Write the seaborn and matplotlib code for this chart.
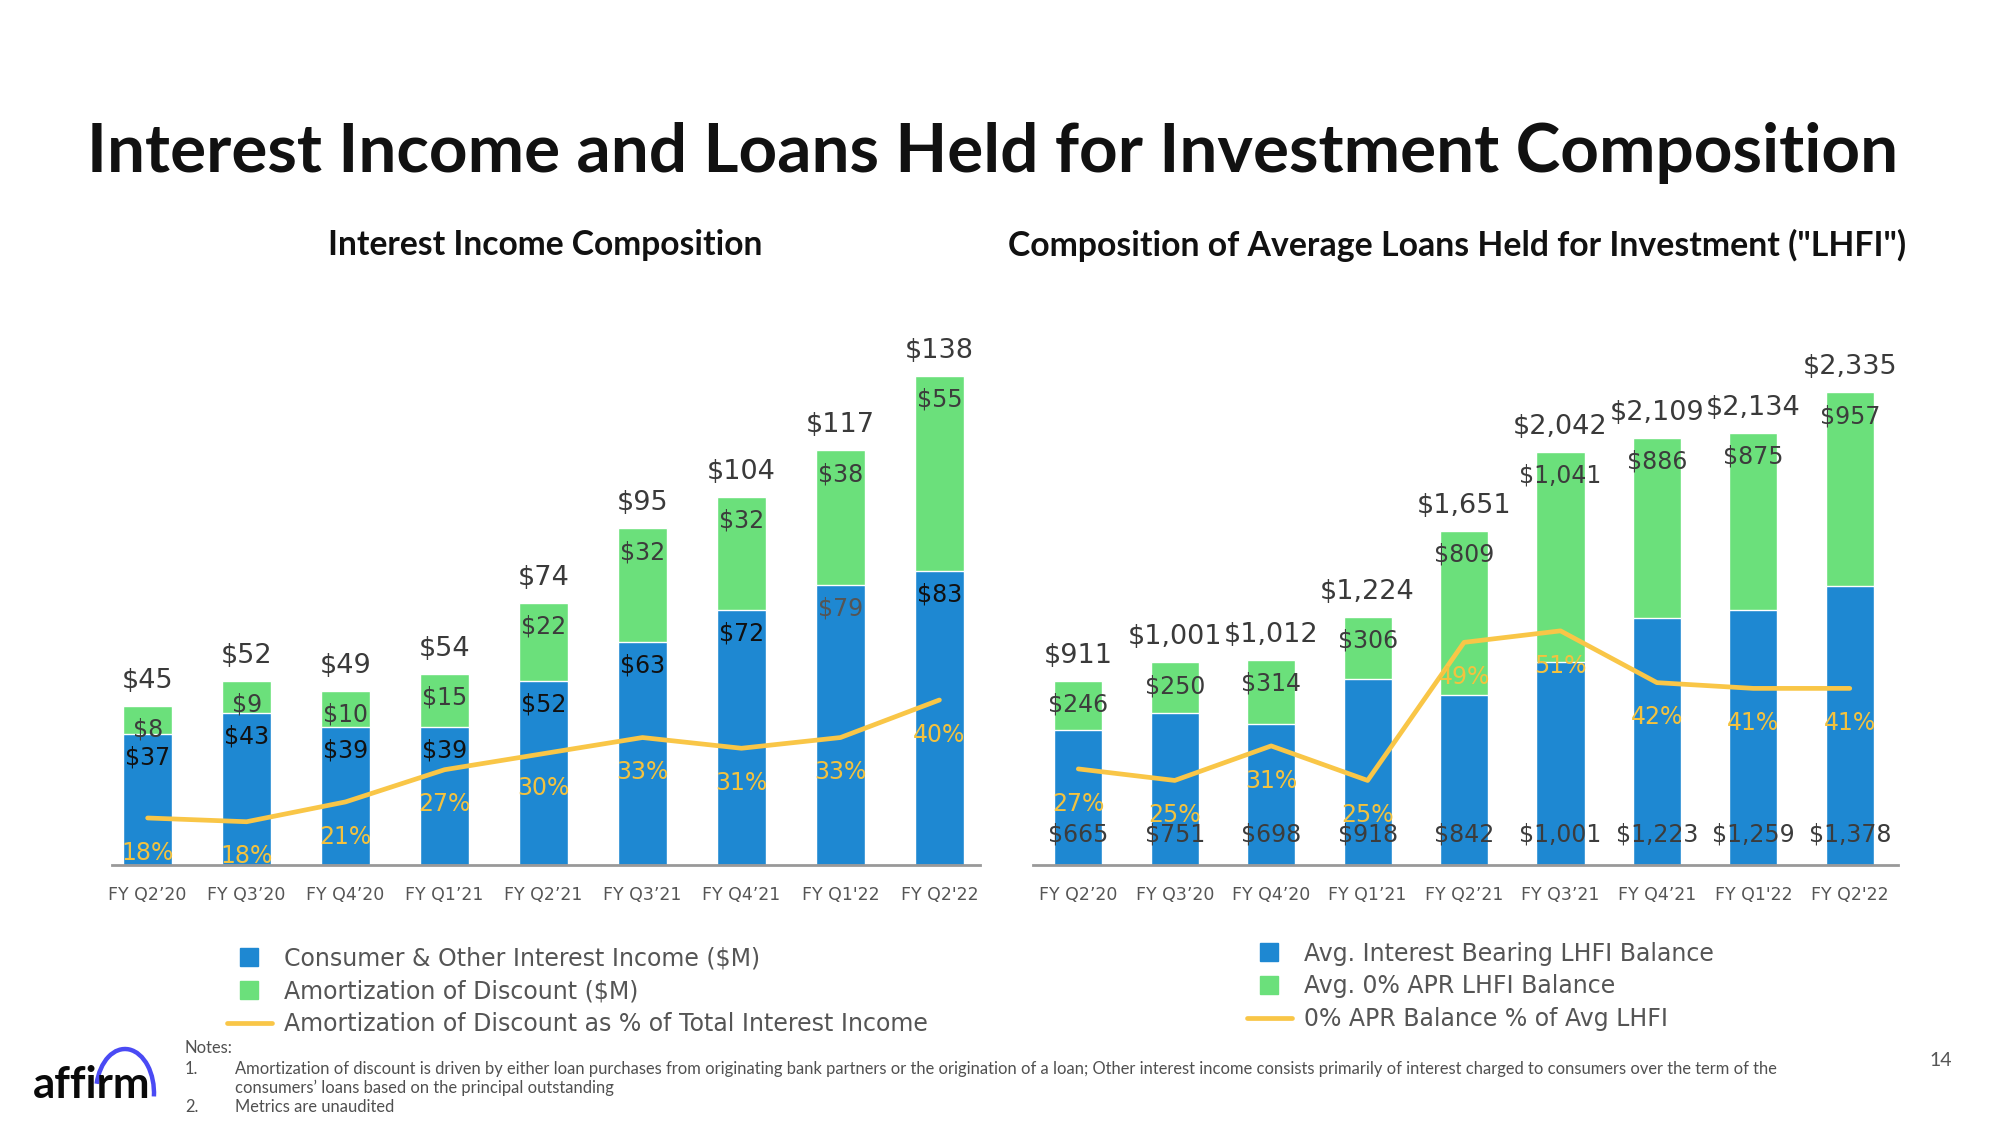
import numpy as np
import pandas as pd
import matplotlib
matplotlib.use("Agg")
import matplotlib.pyplot as plt
import seaborn as sns
from matplotlib.lines import Line2D
from matplotlib.patches import Arc

# ---------------- data ----------------
quarters_left = ["FY Q2’20", "FY Q3’20", "FY Q4’20", "FY Q1’21", "FY Q2’21",
                 "FY Q3’21", "FY Q4’21", "FY Q1'22", "FY Q2'22"]
quarters_right = ["FY Q2’20", "FY Q3’20", "FY Q4’20", "FY Q1’21", "FY Q2’21",
                  "FY Q3’21", "FY Q4’21", "FY Q1'22", "FY Q2'22"]

consumer_income = [37, 43, 39, 39, 52, 63, 72, 79, 83]
amortization = [8, 9, 10, 15, 22, 32, 32, 38, 55]
income_total = [45, 52, 49, 54, 74, 95, 104, 117, 138]
amort_pct = [18, 17.3, 21, 27, 30, 33, 31, 33, 40]
amort_pct_labels = ["18%", "18%", "21%", "27%", "30%", "33%", "31%", "33%", "40%"]

interest_bearing = [665, 751, 698, 918, 842, 1001, 1223, 1259, 1378]
zero_apr = [246, 250, 314, 306, 809, 1041, 886, 875, 957]
lhfi_total = [911, 1001, 1012, 1224, 1651, 2042, 2109, 2134, 2335]
zero_apr_pct = [27, 25, 31, 25, 49, 51, 42, 41, 41]

BLUE = "#1E88D2"
GREEN = "#6BE07B"
YELLOW = "#F9C647"
PCT_TXT = "#F3C23F"

sns.set_theme(style="white")
plt.rcParams["font.family"] = ["DejaVu Sans"]

fig = plt.figure(figsize=(20, 11.25), dpi=100)
fig.patch.set_facecolor("white")

axL = fig.add_axes([0.056, 0.2311, 0.434, 0.4756])
axR = fig.add_axes([0.5165, 0.2311, 0.4325, 0.4756])


def draw_panel(ax, cats, bottom_vals, top_vals, totals, pct, pct_labels,
               ylim, pct_lim, xlim, bar_w, mode, fmt):
    dfT = pd.DataFrame({"q": cats, "v": totals})
    dfB = pd.DataFrame({"q": cats, "v": bottom_vals})
    sns.barplot(data=dfT, x="q", y="v", color=GREEN, saturation=1, width=bar_w,
                ax=ax, errorbar=None)
    sns.barplot(data=dfB, x="q", y="v", color=BLUE, saturation=1, width=bar_w,
                ax=ax, errorbar=None)
    ax.set_xlim(*xlim)
    ax.set_ylim(*ylim)
    ax.set_xlabel("")
    ax.set_ylabel("")
    ax.set_yticks([])
    ax.tick_params(axis="x", length=0, pad=15, labelsize=12.5, labelcolor="#555555")
    for s in ["top", "right", "left"]:
        ax.spines[s].set_visible(False)
    ax.spines["bottom"].set_color("#999999")
    ax.spines["bottom"].set_linewidth(2)

    ax2 = ax.twinx()
    x = np.arange(len(cats))
    sns.lineplot(x=x, y=pct, ax=ax2, color=YELLOW, linewidth=3.4)
    ax2.set_ylim(*pct_lim)
    ax2.set_yticks([])
    ax2.set_ylabel("")
    for s in ax2.spines.values():
        s.set_visible(False)

    for i in range(len(cats)):
        ax2.annotate(fmt(totals[i]), xy=(i, totals[i]), xycoords=ax.transData,
                     xytext=(0, 18), textcoords="offset points", ha="center",
                     va="center", fontsize=19.5, color="#3A3A3A")
        ax2.annotate(fmt(top_vals[i]), xy=(i, totals[i]), xycoords=ax.transData,
                     xytext=(0, -17), textcoords="offset points", ha="center",
                     va="center", fontsize=17, color="#3C3C3C")
        if mode == "left":
            c = "#555555" if i == 7 else "#111111"
            ax2.annotate(fmt(bottom_vals[i]), xy=(i, bottom_vals[i]),
                         xycoords=ax.transData, xytext=(0, -17),
                         textcoords="offset points", ha="center", va="center",
                         fontsize=17, color=c)
        else:
            ax2.annotate(fmt(bottom_vals[i]), xy=(i, 0), xycoords=ax.transData,
                         xytext=(0, 22), textcoords="offset points", ha="center",
                         va="center", fontsize=17, color="#3C3C3C")
        ax2.annotate(pct_labels[i], xy=(i, pct[i]), xycoords=ax2.transData,
                     xytext=(0, -25), textcoords="offset points", ha="center",
                     va="center", fontsize=17, color=PCT_TXT)
    return ax2


draw_panel(axL, quarters_left, consumer_income, amortization, income_total,
           amort_pct, amort_pct_labels, (0, 151), (9.23, 109.0), (-0.36, 8.41),
           0.49, "left", lambda v: f"${v:,}")
draw_panel(axR, quarters_right, interest_bearing, zero_apr, lhfi_total,
           zero_apr_pct, [f"{p}%" for p in zero_apr_pct], (0, 2644),
           (10.3, 103.3), (-0.47, 8.5), 0.5, "right", lambda v: f"${v:,}")

# ---------------- titles (fitted to target widths in px) ----------------
renderer = fig.canvas.get_renderer()


def fitted_text(x, y, s, target_px, size0, **kw):
    t = fig.text(x, y, s, fontsize=size0, **kw)
    w = t.get_window_extent(renderer=renderer).width
    t.set_fontsize(size0 * target_px / w)
    return t


tkw = dict(ha="center", va="center", fontweight="bold",
           family=["Lato", "DejaVu Sans"], color="#111111")
fitted_text(0.4965, 0.864, "Interest Income and Loans Held for Investment Composition",
            1809, 45, **tkw)
fitted_text(0.2725, 0.782, "Interest Income Composition", 434, 21, **tkw)
fitted_text(0.7285, 0.782, 'Composition of Average Loans Held for Investment ("LHFI")',
            895, 21, **tkw)

# ---------------- legends ----------------
def handles():
    return [Line2D([], [], marker="s", ls="none", markersize=13,
                   markerfacecolor=BLUE, markeredgecolor=BLUE),
            Line2D([], [], marker="s", ls="none", markersize=13,
                   markerfacecolor=GREEN, markeredgecolor=GREEN),
            Line2D([], [], color=YELLOW, lw=3.4)]

fig.legend(handles(), ["Consumer & Other Interest Income ($M)",
                       "Amortization of Discount ($M)",
                       "Amortization of Discount as % of Total Interest Income"],
           loc="upper left", bbox_to_anchor=(0.1135, 0.159), frameon=False,
           fontsize=17, handlelength=1.9, handletextpad=0.5, labelspacing=0.38,
           borderpad=0, borderaxespad=0, labelcolor="#555555")
fig.legend(handles(), ["Avg. Interest Bearing LHFI Balance",
                       "Avg. 0% APR LHFI Balance",
                       "0% APR Balance % of Avg LHFI"],
           loc="upper left", bbox_to_anchor=(0.6235, 0.163), frameon=False,
           fontsize=17, handlelength=1.9, handletextpad=0.5, labelspacing=0.37,
           borderpad=0, borderaxespad=0, labelcolor="#555555")

# ---------------- notes ----------------
nkw = dict(ha="left", va="center", fontsize=11.9, family=["Lato", "DejaVu Sans"],
           color="#505050")
fig.text(0.0925, 0.0684, "Notes:", **nkw)
fig.text(0.0925, 0.0498, "1.", **nkw)
fig.text(0.1175, 0.0498, "Amortization of discount is driven by either loan purchases from originating bank partners or the origination of a loan; Other interest income consists primarily of interest charged to consumers over the term of the", **nkw)
fig.text(0.1175, 0.0329, "consumers’ loans based on the principal outstanding", **nkw)
fig.text(0.0925, 0.016, "2.", **nkw)
fig.text(0.1175, 0.016, "Metrics are unaudited", **nkw)
fig.text(0.9705, 0.0569, "14", ha="center", va="center", fontsize=14,
         family=["Lato", "DejaVu Sans"], color="#555555")

# ---------------- logo ----------------
fig.text(0.0165, 0.0355, "affirm", ha="left", va="center", fontsize=31.5,
         fontweight="bold", family=["Lato", "DejaVu Sans"], color="#0A0A0A")
fig.add_artist(Arc((0.0625, 1 - 1093 / 1125), 58 / 2000, 88 / 1125, theta1=-12,
                   theta2=150, transform=fig.transFigure, color="#4A4AF4", lw=3.2))

fig.savefig("out.png", dpi=100, facecolor="white")
